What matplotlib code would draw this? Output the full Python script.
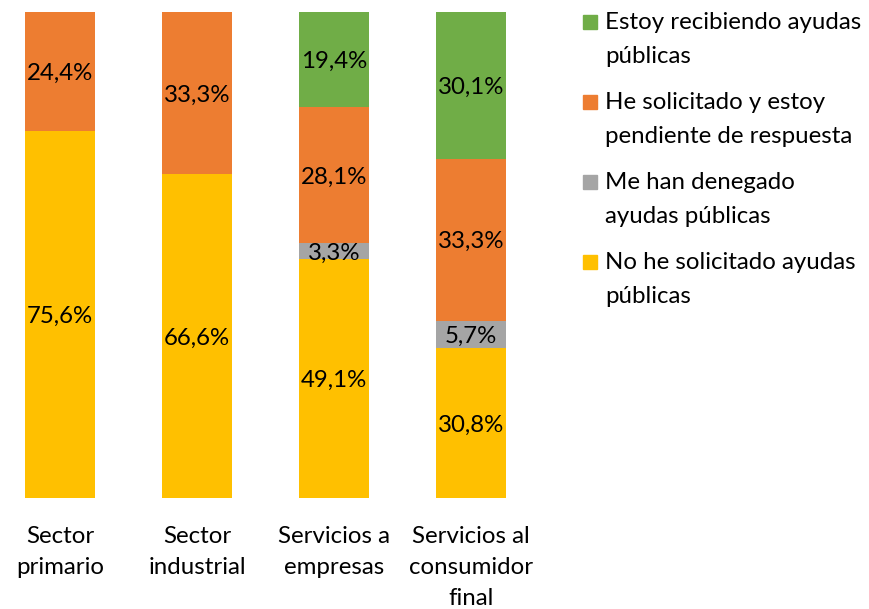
import matplotlib
matplotlib.use("Agg")
import matplotlib.pyplot as plt
from matplotlib.patches import Rectangle

plt.rcParams['font.family'] = ['Lato', 'DejaVu Sans']

categories = ["Sector\nprimario", "Sector\nindustrial", "Servicios a\nempresas", "Servicios al\nconsumidor\nfinal"]
series_names = ["No he solicitado ayudas\npúblicas",
                "Me han denegado\nayudas públicas",
                "He solicitado y estoy\npendiente de respuesta",
                "Estoy recibiendo ayudas\npúblicas"]
no_solicitado = [75.6, 66.6, 49.1, 30.8]
denegado = [0.0, 0.0, 3.3, 5.7]
pendiente = [24.4, 33.3, 28.1, 33.3]
recibiendo = [0.0, 0.0, 19.4, 30.1]
colors = ["#FFC000", "#A5A5A5", "#ED7D31", "#70AD47"]

W, H = 870, 609
fig = plt.figure(figsize=(W / 100, H / 100), dpi=100)
ax = fig.add_axes([0, (H - 498) / H, 540 / W, 486 / H])

x = list(range(len(categories)))
bottom = [0.0] * len(categories)
fs = 17.3
for vals, col in zip([no_solicitado, denegado, pendiente, recibiendo], colors):
    bars = ax.bar(x, vals, bottom=bottom, width=70 / 137, color=col, edgecolor="none")
    for xi, v, b in zip(x, vals, bottom):
        if v > 0:
            ax.text(xi, b + v / 2, f"{v:.1f}%".replace(".", ","), ha="center", va="center_baseline",
                    fontsize=fs, color="black")
    bottom = [b + v for b, v in zip(bottom, vals)]

ax.set_xlim(-60 / 137, (540 - 60) / 137)
ax.set_ylim(0, 100)
ax.set_xticks(x)
ax.set_xticklabels(categories, fontsize=fs, linespacing=1.6)
ax.tick_params(axis="x", length=0, pad=20)
ax.set_yticks([])
for s in ax.spines.values():
    s.set_visible(False)

# legend (top to bottom: reversed stacking order)
leg_top = 22
for i, (name, col) in enumerate(zip(series_names[::-1], colors[::-1])):
    yc = leg_top + i * 80
    fig.add_artist(Rectangle((583 / W, 1 - (yc + 7) / H), 14 / W, 14 / H,
                             transform=fig.transFigure, color=col))
    fig.text(605 / W, 1 - (yc - 10) / H, name, ha="left", va="top", fontsize=fs,
             linespacing=1.74)

fig.savefig("out.png", dpi=100)
